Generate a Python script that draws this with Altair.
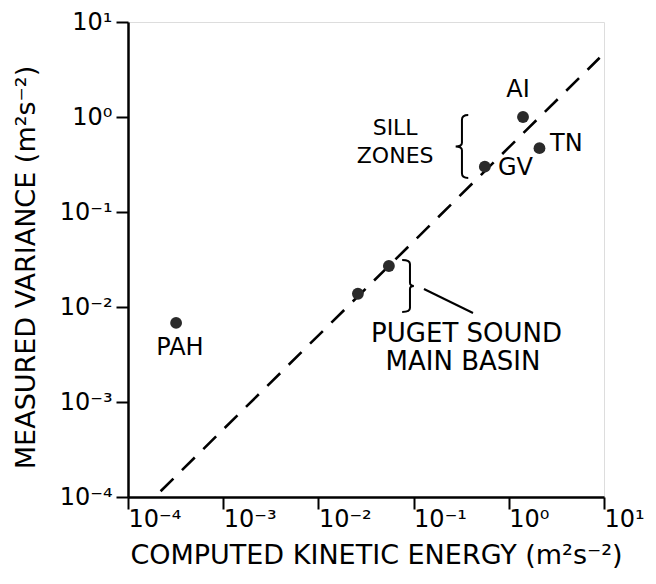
import json
import altair as alt
import pandas as pd

# ---- data ----
pt_names = ["PAH", "MB1", "MB2", "GV", "AI", "TN"]
pt_ke = [3.2e-4, 0.026, 0.055, 0.56, 1.41, 2.1]
pt_var = [6.8e-3, 0.0138, 0.027, 0.30, 1.0, 0.47]

fit_ke = [2.2e-4, 9.0]
fit_var = [1.15e-4, 4.2]

tick_values = [1e-4, 1e-3, 1e-2, 1e-1, 1, 10]
tick_labels = ["10⁻⁴", "10⁻³", "10⁻²", "10⁻¹", "10⁰", "10¹"]

lbl_left_text = ["TN", "GV"]
lbl_left_x = [2.71, 0.77]
lbl_left_y = [0.52, 0.29]

lbl_center_text = ["AI", "PAH"]
lbl_center_x = [1.25, 3.51e-4]
lbl_center_y = [1.92, 0.0037]

sill_text = ["SILL", "ZONES"]
sill_x = [0.064, 0.064]
sill_y = [0.77, 0.39]

basin_text = ["PUGET SOUND", "MAIN BASIN"]
basin_x = [0.36, 0.33]
basin_y = [0.0052, 0.00264]

brace_open_x = [0.322]
brace_open_y = [0.489]
brace_close_x = [0.0916]
brace_close_y = [0.01664]

conn_x = [0.1285]
conn_x2 = [0.4207]
conn_y = [0.01547]
conn_y2 = [0.00865]

FONT = "DejaVu Sans"
label_expr = json.dumps(tick_labels, ensure_ascii=False) + "[round(log(datum.value)/LN10)+4]"

xs = alt.Scale(type="log", domain=[1e-4, 10], nice=False)
ys = alt.Scale(type="log", domain=[1e-4, 10], nice=False)

x_axis = alt.Axis(
    values=tick_values, labelExpr=label_expr, grid=False,
    tickSize=12, tickWidth=2, tickColor="black",
    domainColor="black", domainWidth=2.5,
    labelFont=FONT, labelFontSize=24, labelColor="black",
    labelAlign="left", labelBaseline="top", labelPadding=-2,
    labelOverlap=False, labelFlush=False,
    title="COMPUTED KINETIC ENERGY (m²s⁻²)",
    titleFont=FONT, titleFontSize=27, titleFontWeight="normal", titleColor="black",
    titleX=248, titleY=58, titleAlign="center", titleBaseline="middle",
)
y_axis = alt.Axis(
    values=tick_values, labelExpr=label_expr, grid=False,
    tickSize=12, tickWidth=2, tickColor="black",
    domainColor="black", domainWidth=2.5,
    labelFont=FONT, labelFontSize=24, labelColor="black",
    labelAlign="right", labelBaseline="middle", labelPadding=4,
    labelOverlap=False, labelFlush=False,
    title="MEASURED VARIANCE (m²s⁻²)",
    titleFont=FONT, titleFontSize=27, titleFontWeight="normal", titleColor="black",
    titleX=-102, titleY=245, titleAlign="center", titleBaseline="middle", titleAngle=270,
)

pts = pd.DataFrame({"name": pt_names, "ke": pt_ke, "var": pt_var})
fit = pd.DataFrame({"ke": fit_ke, "var": fit_var})
lbl_left = pd.DataFrame({"t": lbl_left_text, "ke": lbl_left_x, "var": lbl_left_y})
lbl_center = pd.DataFrame({"t": lbl_center_text, "ke": lbl_center_x, "var": lbl_center_y})
sill = pd.DataFrame({"t": sill_text, "ke": sill_x, "var": sill_y})
basin = pd.DataFrame({"t": basin_text, "ke": basin_x, "var": basin_y})
b_open = pd.DataFrame({"ke": brace_open_x, "var": brace_open_y})
b_close = pd.DataFrame({"ke": brace_close_x, "var": brace_close_y})
conn = pd.DataFrame({"x": conn_x, "x2": conn_x2, "y": conn_y, "y2": conn_y2})

X = alt.X("ke:Q", scale=xs, axis=x_axis)
Y = alt.Y("var:Q", scale=ys, axis=y_axis)
Xn = alt.X("ke:Q", scale=xs)
Yn = alt.Y("var:Q", scale=ys)

line = alt.Chart(fit).mark_line(color="black", strokeWidth=2.6, strokeDash=[18, 12]).encode(x=X, y=Y)
dots = alt.Chart(pts).mark_circle(size=140, color="#2a2a2a", opacity=1).encode(x=Xn, y=Yn)

txt_left = alt.Chart(lbl_left).mark_text(font=FONT, fontSize=24, align="left", baseline="middle", color="black").encode(
    x=Xn, y=Yn, text="t:N")
txt_center = alt.Chart(lbl_center).mark_text(font=FONT, fontSize=24, align="center", baseline="middle", color="black").encode(
    x=Xn, y=Yn, text="t:N")
txt_sill = alt.Chart(sill).mark_text(font=FONT, fontSize=22, align="center", baseline="middle", color="black").encode(
    x=Xn, y=Yn, text="t:N")
txt_basin = alt.Chart(basin).mark_text(font=FONT, fontSize=26, align="center", baseline="middle", color="black").encode(
    x=Xn, y=Yn, text="t:N")

open_path = "M 0.2 -1 Q 0 -1 0 -0.85 L 0 -0.12 Q 0 0 -0.2 0 Q 0 0 0 0.12 L 0 0.85 Q 0 1 0.2 1"
close_path = "M -0.3 -1 Q 0 -1 0 -0.85 L 0 -0.12 Q 0 0 0.15 0 Q 0 0 0 0.12 L 0 0.85 Q 0 1 -0.3 1"

brace1 = alt.Chart(b_open).mark_point(shape=open_path, size=3969, filled=False, color="black",
                                        strokeWidth=2, opacity=1).encode(x=Xn, y=Yn)
brace2 = alt.Chart(b_close).mark_point(shape=close_path, size=2704, filled=False, color="black",
                                         strokeWidth=2, opacity=1).encode(x=Xn, y=Yn)
connector = alt.Chart(conn).mark_rule(color="black", strokeWidth=2).encode(
    x=alt.X("x:Q", scale=xs), x2="x2:Q", y=alt.Y("y:Q", scale=ys), y2="y2:Q")

chart = alt.layer(line, dots, txt_left, txt_center, txt_sill, txt_basin, brace1, brace2, connector).properties(
    width=476, height=475,
    autosize=alt.AutoSizeParams(type="none"),
    padding={"left": 120, "top": 14, "right": 44, "bottom": 78},
).configure_view(stroke="black", strokeWidth=2.5).configure(background="white")

chart.save("out.html", embed_options={"renderer": "svg", "actions": False})
